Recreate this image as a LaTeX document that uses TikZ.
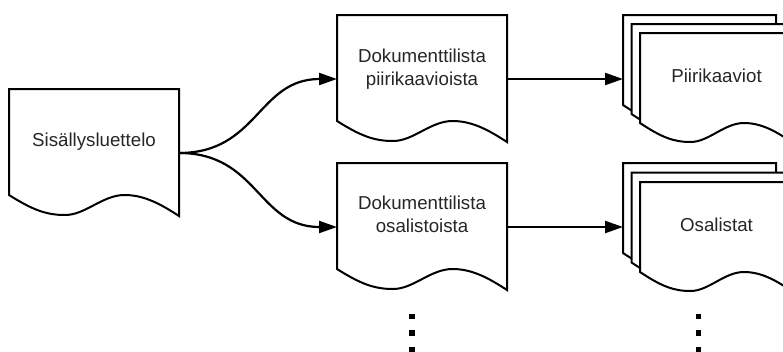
\documentclass[tikz,border=0pt]{standalone}
\usepackage{fontspec}
\setmainfont{Liberation Sans}
\usetikzlibrary{arrows.meta}
% #1 x, #2 top y, #3 width, #4 height to left bottom corner, #5 wave amplitude
\newcommand\docshape[5]{%
  \filldraw[docline] (#1,#2) -- ({#1+#3},#2) -- ({#1+#3},{#2+#4+1.05*#5})
    .. controls ({#1+0.9*#3},{#2+#4+0.5*#5}) and ({#1+0.8*#3},{#2+#4}) .. ({#1+0.68*#3},{#2+#4})
    .. controls ({#1+0.55*#3},{#2+#4}) and ({#1+0.45*#3},{#2+#4+#5}) .. ({#1+0.33*#3},{#2+#4+#5})
    .. controls ({#1+0.22*#3},{#2+#4+#5}) and ({#1+0.14*#3},{#2+#4+0.75*#5}) .. (#1,{#2+#4}) -- cycle;}
\tikzset{
  docline/.style={draw=black, fill=white, line width=2pt, line join=miter},
  box/.style={minimum width=170pt, minimum height=128pt, inner sep=0pt, outer sep=0pt},
  lbl/.style={font=\fontsize{18.7}{23}\selectfont, align=center, inner sep=0pt, text=black!85},
  arr/.style={line width=2.2pt, -{Triangle[length=18pt,width=12pt]}},
  dotline/.style={line width=5.5pt, dash pattern=on 5.5pt off 11pt}
}
\begin{document}
\begin{tikzpicture}[x=1pt,y=-1pt]
\useasboundingbox (0,0) rectangle (783,351);
\clip (0,0) rectangle (783,351);
% invisible boxes for connectors
\node[box] (d1) at (94,153) {};
\node[box] (d2) at (422,79) {};
\node[box] (d3) at (422,227) {};
\node[box] (s1) at (708,79) {};
\node[box] (s2) at (708,227) {};
% document shapes
\docshape{9}{89}{170}{106}{20}
\docshape{337}{15}{170}{106}{20}
\docshape{337}{163}{170}{106}{20}
% stacked documents
\docshape{623}{15}{153}{90}{19}
\docshape{631.5}{24}{153}{90}{19}
\docshape{640}{33}{153}{90}{19}
\docshape{623}{163}{153}{90}{19}
\docshape{631.5}{172.5}{153}{90}{19}
\docshape{640}{182}{153}{90}{19}
% labels
\node[lbl] (t1) at (94,141.3) {Sisällysluettelo};
\node[lbl] (t2) at (422,68.7) {Dokumenttilista\\piirikaavioista};
\node[lbl] (t3) at (422,214) {Dokumenttilista\\osalistoista};
\node[lbl] (t4) at (716.5,76.3) {Piirikaaviot};
\node[lbl] (t5) at (716.5,225.3) {Osalistat};
% connectors
\draw[arr] (d1.east) to[out=0,in=180,out distance=79pt,in distance=79pt] (d2.west);
\draw[arr] (d1.east) to[out=0,in=180,out distance=79pt,in distance=79pt] (d3.west);
\draw[arr] (d2.east) -- (s1.west);
\draw[arr] (d3.east) -- (s2.west);
% continuation dots
\draw[dotline] (412,313.75) -- (412,360);
\draw[dotline] (698.5,313.75) -- (698.5,360);
\end{tikzpicture}
\end{document}
